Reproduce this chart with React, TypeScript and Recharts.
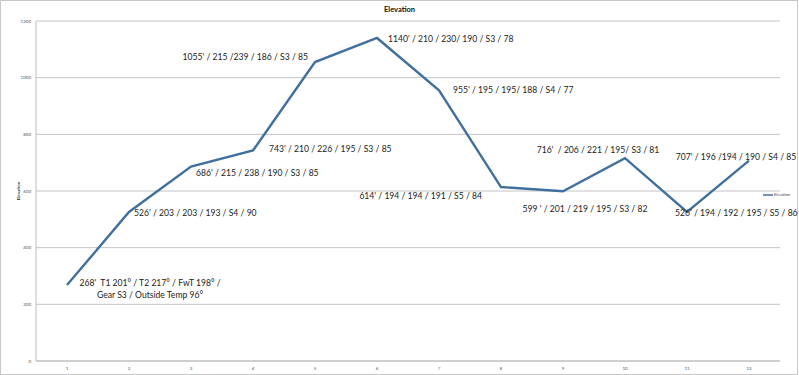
import React from 'react';
import { LineChart, Line, XAxis, YAxis, CartesianGrid, LabelList } from 'recharts';

const categories = ['1', '2', '3', '4', '5', '6', '7', '8', '9', '10', '11', '12'];
const elevation = [268, 526, 686, 743, 1055, 1140, 955, 614, 599, 716, 526, 707];
const pointNotes: string[][] = [
  ["268'  T1 201° / T2 217° / FwT 198° /", 'Gear S3 / Outside Temp 96°'],
  ["526' / 203 / 203 / 193 / S4 / 90"],
  ["686' / 215 / 238 / 190 / S3 / 85"],
  ["743' / 210 / 226 / 195 / S3 / 85"],
  ["1055' / 215 /239 / 186 / S3 / 85"],
  ["1140' / 210 / 230/ 190 / S3 / 78"],
  ["955' / 195 / 195/ 188 / S4 / 77"],
  ["614' / 194 / 194 / 191 / S5 / 84"],
  ["599 ' / 201 / 219 / 195 / S3 / 82"],
  ["716'  / 206 / 221 / 195/ S3 / 81"],
  ["526' / 194 / 192 / 195 / S5 / 86"],
  ["707' / 196 /194 / 190 / S4 / 85"],
];
const yTicks = [0, 200, 400, 600, 800, 1000, 1200];
const seriesName = 'Elevation';
const chartTitle = 'Elevation';

const data = categories.map((c, i) => ({ cat: c, value: elevation[i] }));

// label placement relative to each point: [dx, dy, anchor]
const labelPlacement: [number, number, 'start' | 'middle' | 'end'][] = [
  [83, -2, 'middle'],
  [5, 1, 'start'],
  [5, 6, 'start'],
  [16, -1, 'start'],
  [-7, -5, 'end'],
  [11, 1, 'start'],
  [14, 0, 'start'],
  [-19, 9, 'end'],
  [22, 18, 'middle'],
  [-27, -8, 'middle'],
  [-12, 1, 'start'],
  [-13, -4, 'middle'],
];

const FONT = 'Lato, "Open Sans", sans-serif';
const LINE_COLOR = '#41709f';

const NoteLabel = (props: any) => {
  const { x, y, index } = props;
  const lines = pointNotes[index] || [];
  const [dx, dy, anchor] = labelPlacement[index];
  return (
    <text
      x={x + dx}
      y={y + dy}
      textAnchor={anchor}
      dominantBaseline="central"
      fontFamily={FONT}
      fontSize={8.6}
      fill="#222"
      style={{ whiteSpace: 'pre' }}
    >
      {lines.map((l, k) => (
        <tspan key={k} x={x + dx} dy={k === 0 ? 0 : 12}>
          {l}
        </tspan>
      ))}
    </text>
  );
};

const YLabel = (props: any) => {
  const { viewBox } = props;
  const cy = viewBox.y + viewBox.height / 2;
  return (
    <text
      x={18}
      y={cy}
      transform={`rotate(-90, 18, ${cy})`}
      textAnchor="middle"
      dominantBaseline="central"
      fontFamily={FONT}
      fontWeight="bold"
      fontSize={4.5}
      fill="#333"
    >
      {seriesName}
    </text>
  );
};

export default function App() {
  return (
    <div style={{ position: 'absolute', left: 0, top: 0, width: 799, height: 375, background: '#fff' }}>
      <div
        style={{
          position: 'absolute',
          left: 0,
          top: 0,
          width: 798,
          height: 375,
          boxSizing: 'border-box',
          border: '1px solid #c8c8c8',
        }}
      />
      <div
        style={{
          position: 'absolute',
          left: 0,
          width: 799,
          top: 5,
          textAlign: 'center',
          fontFamily: FONT,
          fontWeight: 'bold',
          fontSize: 7.5,
          color: '#111',
        }}
      >
        {chartTitle}
      </div>
      <div
        style={{
          position: 'absolute',
          left: 763,
          top: 192,
          display: 'flex',
          alignItems: 'center',
          fontFamily: FONT,
          fontSize: 4,
          color: '#444',
          lineHeight: '5px',
        }}
      >
        <svg width={10} height={4} style={{ display: 'block' }}>
          <line x1={0} y1={2} x2={10} y2={2} stroke={LINE_COLOR} strokeWidth={1.5} />
        </svg>
        <span style={{ marginLeft: 1 }}>{seriesName}</span>
      </div>
      <LineChart
        width={799}
        height={375}
        data={data}
        margin={{ top: 21, right: 19, left: 0, bottom: 0 }}
        style={{ position: 'absolute', left: 0, top: 0 }}
      >
        <CartesianGrid vertical={false} stroke="#c4c4c4" strokeWidth={1} />
        <XAxis
          dataKey="cat"
          height={14}
          padding={{ left: 31, right: 31 }}
          tickSize={0}
          tickMargin={6}
          tick={{ fontSize: 4.5, fill: '#555', fontFamily: FONT }}
          axisLine={{ stroke: '#bdbdbd' }}
          interval={0}
        />
        <YAxis
          width={36}
          domain={[0, 1200]}
          ticks={yTicks}
          tickSize={0}
          tickMargin={5}
          tick={{ fontSize: 4.5, fill: '#555', fontFamily: FONT }}
          axisLine={{ stroke: '#bdbdbd' }}
          label={<YLabel />}
        />
        <Line
          type="linear"
          dataKey="value"
          name={seriesName}
          stroke={LINE_COLOR}
          strokeWidth={2.4}
          dot={false}
          activeDot={false}
          isAnimationActive={false}
        >
          <LabelList dataKey="value" content={<NoteLabel />} />
        </Line>
      </LineChart>
    </div>
  );
}
